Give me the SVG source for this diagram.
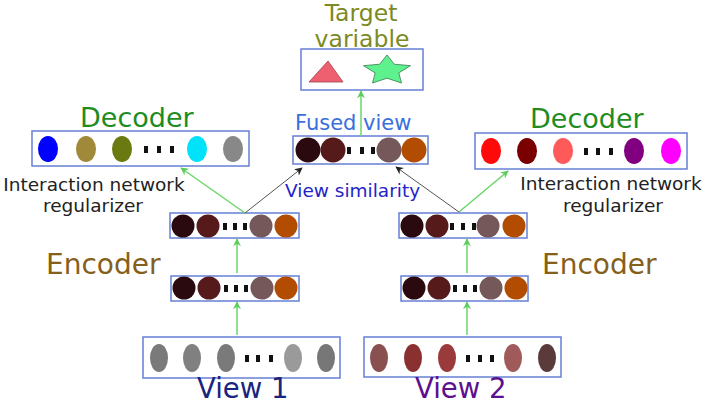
<svg xmlns="http://www.w3.org/2000/svg" width="708" height="405" viewBox="0 0 708 405">
<defs>
<style>
.box{fill:#fff;stroke:#6680d6;stroke-width:1.5}
.t{font-family:"DejaVu Sans","Liberation Sans",sans-serif}
.dot{fill:#111}
.g{stroke:#6ad66a;stroke-width:1.5;fill:none}
.k{stroke:#555;stroke-width:1;fill:none}
</style>
<marker id="ag" viewBox="0 0 10 10" refX="9" refY="5" markerWidth="8" markerHeight="8" orient="auto" markerUnits="userSpaceOnUse"><path d="M0,0 L10,5 L0,10 L3,5 Z" fill="#5ccc5c"/></marker>
<marker id="ak" viewBox="0 0 10 10" refX="9" refY="5" markerWidth="8" markerHeight="8" orient="auto" markerUnits="userSpaceOnUse"><path d="M0,0 L10,5 L0,10 L3,5 Z" fill="#222"/></marker>
</defs>
<rect width="708" height="405" fill="#fff"/>

<g id="target">
<text class="t" x="361" y="21" font-size="23.5" fill="#7b8a22" text-anchor="middle">Target</text>
<text class="t" x="362" y="47" font-size="23.5" fill="#7b8a22" text-anchor="middle">variable</text>
<rect class="box" x="301" y="49" width="122" height="41"/>
<polygon points="309,82 328,61 343,82" fill="#ee6070" stroke="#a04050" stroke-width="0.8"/>
<polygon points="387,55 394.3,64.2 410.5,65.7 398.8,72.9 401.5,83 387,78.2 372.5,83 375.2,72.9 363.5,65.7 379.7,64.2" fill="#5ef28e" stroke="#3a7a50" stroke-width="0.8"/>
</g>

<g id="decoder-left">
<text class="t" x="80" y="127" font-size="27" fill="#1e8c1e">Decoder</text>
<rect class="box" x="32" y="131" width="217" height="35"/>
<ellipse cx="48" cy="149" rx="10" ry="13" fill="#0000ff"/>
<ellipse cx="86" cy="149" rx="10" ry="13" fill="#a08a3a"/>
<ellipse cx="122" cy="149" rx="10" ry="13" fill="#6b7a10"/>
<rect class="dot" x="144" y="146" width="4" height="7"/>
<rect class="dot" x="157" y="146" width="4" height="7"/>
<rect class="dot" x="170" y="146" width="4" height="7"/>
<ellipse cx="197" cy="149" rx="10" ry="13" fill="#00e2fa"/>
<ellipse cx="233" cy="149" rx="10" ry="13" fill="#888"/>
<text class="t" x="94" y="191" font-size="18.5" fill="#222" text-anchor="middle">Interaction network</text>
<text class="t" x="93" y="212" font-size="18.5" fill="#222" text-anchor="middle">regularizer</text>
</g>

<g id="decoder-right">
<text class="t" x="530" y="128" font-size="27" fill="#1e8c1e">Decoder</text>
<rect class="box" x="475" y="133" width="212" height="36"/>
<ellipse cx="491" cy="151" rx="10" ry="13" fill="#ff0a0a"/>
<ellipse cx="527" cy="151" rx="10" ry="13" fill="#7a0000"/>
<ellipse cx="563" cy="151" rx="10" ry="13" fill="#ff5a5a"/>
<rect class="dot" x="584" y="148" width="4" height="7"/>
<rect class="dot" x="596" y="148" width="4" height="7"/>
<rect class="dot" x="609" y="148" width="4" height="7"/>
<ellipse cx="634" cy="151" rx="10" ry="13" fill="#800080"/>
<ellipse cx="671" cy="151" rx="10" ry="13" fill="#ff00ff"/>
<text class="t" x="611" y="190" font-size="18.5" fill="#222" text-anchor="middle">Interaction network</text>
<text class="t" x="613" y="212" font-size="18.5" fill="#222" text-anchor="middle">regularizer</text>
</g>

<g id="fused">
<text class="t" x="295" y="130" font-size="21" fill="#3a6fdc">Fused view</text>
<rect class="box" x="293" y="136" width="135" height="28"/>
<circle cx="308" cy="150" r="12.5" fill="#2b0a0f"/>
<circle cx="333" cy="150" r="12.5" fill="#561a1a"/>
<rect class="dot" x="347" y="147" width="4" height="7"/>
<rect class="dot" x="360" y="147" width="4" height="7"/>
<rect class="dot" x="371" y="147" width="4" height="7"/>
<circle cx="389" cy="150" r="12.5" fill="#75585a"/>
<circle cx="414" cy="150" r="12.5" fill="#b24c00"/>
<text class="t" x="285" y="197" font-size="18.5" fill="#2323c8">View similarity</text>
</g>

<g id="encoder-left-top">
<rect class="box" x="170" y="213" width="129" height="25"/>
<circle cx="183" cy="226" r="11.5" fill="#2b0a0f"/>
<circle cx="208" cy="226" r="11.5" fill="#561a1a"/>
<rect class="dot" x="223" y="223" width="4" height="7"/>
<rect class="dot" x="233" y="223" width="4" height="7"/>
<rect class="dot" x="243" y="223" width="4" height="7"/>
<circle cx="261" cy="226" r="11.5" fill="#75585a"/>
<circle cx="286" cy="226" r="11.5" fill="#b24c00"/>
</g>
<g id="encoder-left-bottom">
<text class="t" x="46" y="274" font-size="28" fill="#85601a">Encoder</text>
<rect class="box" x="171" y="276" width="128" height="25"/>
<circle cx="184" cy="288" r="11.5" fill="#2b0a0f"/>
<circle cx="209" cy="288" r="11.5" fill="#561a1a"/>
<rect class="dot" x="224" y="285" width="4" height="7"/>
<rect class="dot" x="234" y="285" width="4" height="7"/>
<rect class="dot" x="244" y="285" width="4" height="7"/>
<circle cx="262" cy="288" r="11.5" fill="#75585a"/>
<circle cx="286" cy="288" r="11.5" fill="#b24c00"/>
</g>

<g id="encoder-right-top">
<rect class="box" x="399" y="213" width="128" height="25"/>
<circle cx="412" cy="226" r="11.5" fill="#2b0a0f"/>
<circle cx="437" cy="226" r="11.5" fill="#561a1a"/>
<rect class="dot" x="450" y="223" width="4" height="7"/>
<rect class="dot" x="461" y="223" width="4" height="7"/>
<rect class="dot" x="472" y="223" width="4" height="7"/>
<circle cx="488" cy="226" r="11.5" fill="#75585a"/>
<circle cx="514" cy="226" r="11.5" fill="#b24c00"/>
</g>
<g id="encoder-right-bottom">
<text class="t" x="542" y="274" font-size="28" fill="#85601a">Encoder</text>
<rect class="box" x="401" y="276" width="127" height="25"/>
<circle cx="414" cy="288" r="11.5" fill="#2b0a0f"/>
<circle cx="439" cy="288" r="11.5" fill="#561a1a"/>
<rect class="dot" x="453" y="285" width="4" height="7"/>
<rect class="dot" x="463" y="285" width="4" height="7"/>
<rect class="dot" x="473" y="285" width="4" height="7"/>
<circle cx="491" cy="288" r="11.5" fill="#75585a"/>
<circle cx="516" cy="288" r="11.5" fill="#b24c00"/>
</g>

<g id="view1">
<rect class="box" x="143" y="337" width="197" height="41"/>
<ellipse cx="159" cy="358" rx="9" ry="14" fill="#7a7a7a"/>
<ellipse cx="192" cy="358" rx="9" ry="14" fill="#808080"/>
<ellipse cx="226" cy="358" rx="9" ry="14" fill="#7a7a7a"/>
<rect class="dot" x="245" y="355" width="4" height="7"/>
<rect class="dot" x="256" y="355" width="4" height="7"/>
<rect class="dot" x="269" y="355" width="4" height="7"/>
<ellipse cx="293" cy="358" rx="9" ry="14" fill="#9a9a9a"/>
<ellipse cx="326" cy="358" rx="9" ry="14" fill="#777"/>
<text class="t" x="197" y="398" font-size="27.5" fill="#1a237e">View 1</text>
</g>

<g id="view2">
<rect class="box" x="364" y="337" width="197" height="40"/>
<ellipse cx="379" cy="358" rx="9" ry="14" fill="#8a5050"/>
<ellipse cx="413" cy="358" rx="9" ry="14" fill="#8a3030"/>
<ellipse cx="447" cy="358" rx="9" ry="14" fill="#9a3a3a"/>
<rect class="dot" x="466" y="355" width="4" height="7"/>
<rect class="dot" x="478" y="355" width="4" height="7"/>
<rect class="dot" x="490" y="355" width="4" height="7"/>
<ellipse cx="513" cy="358" rx="9" ry="14" fill="#a05a5a"/>
<ellipse cx="547" cy="358" rx="9" ry="14" fill="#5a3a3a"/>
<text class="t" x="415" y="398" font-size="27.5" fill="#5b1090">View 2</text>
</g>

<g id="connectors">
<line class="g" x1="361" y1="136" x2="361" y2="91" marker-end="url(#ag)"/>
<line class="g" x1="245" y1="213" x2="181" y2="168" marker-end="url(#ag)"/>
<line class="g" x1="459" y1="212" x2="508" y2="171" marker-end="url(#ag)"/>
<line class="k" x1="245" y1="213" x2="302" y2="168" marker-end="url(#ak)"/>
<line class="k" x1="459" y1="212" x2="396" y2="167" marker-end="url(#ak)"/>
<line class="g" x1="237" y1="273" x2="237" y2="239" marker-end="url(#ag)"/>
<line class="g" x1="237" y1="335" x2="237" y2="302" marker-end="url(#ag)"/>
<line class="g" x1="467" y1="273" x2="467" y2="239" marker-end="url(#ag)"/>
<line class="g" x1="467" y1="335" x2="467" y2="302" marker-end="url(#ag)"/>
</g>
</svg>
